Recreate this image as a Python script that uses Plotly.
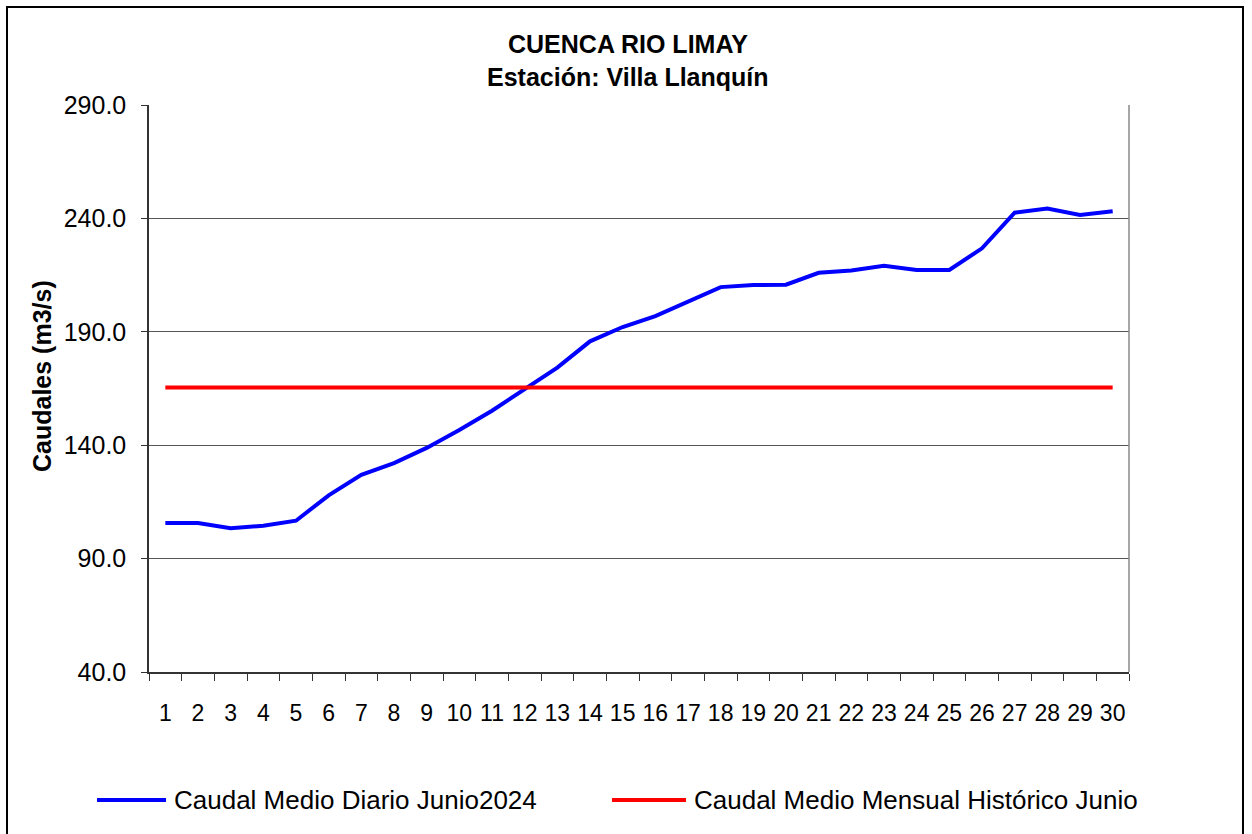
import plotly.graph_objects as go

# data
days = [str(d) for d in range(1, 31)]
caudal_diario = [105.7, 105.7, 103.4, 104.5, 106.7, 117.9, 126.9, 132.1, 138.8, 146.7,
                 155.2, 164.9, 174.2, 185.8, 192.1, 196.9, 203.5, 209.7, 210.6, 210.8,
                 216.0, 217.0, 219.1, 217.3, 217.3, 226.8, 242.5, 244.4, 241.5, 243.2]
caudal_historico = [165.4] * 30
y_ticks = [40, 90, 140, 190, 240, 290]

serie_names = ["Caudal Medio Diario Junio2024", "Caudal Medio Mensual Histórico Junio"]
serie_colors = ["#0000FF", "#FF0000"]

FONT = "Liberation Sans, Arial, sans-serif"

# plot area in pixels: x 149..1129, y 105..672
def px(x):
    return (x - 149) / 980

def py(y):
    return (672 - y) / 567

fig = go.Figure()
fig.add_trace(go.Scatter(x=days, y=caudal_diario, mode="lines", name=serie_names[0],
                         line=dict(color=serie_colors[0], width=4)))
fig.add_trace(go.Scatter(x=days, y=caudal_historico, mode="lines", name=serie_names[1],
                         line=dict(color=serie_colors[1], width=4)))

fig.update_layout(
    width=1252, height=834,
    margin=dict(l=149, r=123, t=105, b=162),
    paper_bgcolor="white", plot_bgcolor="white",
    showlegend=False,
    font=dict(family=FONT, color="black", size=24),
)

fig.update_xaxes(
    type="category", range=[-0.5, 29.5], tickson="boundaries", ticks="outside", ticklen=7,
    tickcolor="#333333", showgrid=False, showline=True, linecolor="#333333",
    linewidth=1.5, tickfont=dict(size=23), tickangle=0, ticklabelstandoff=20,
)
fig.update_yaxes(
    range=[40, 290], tickvals=y_ticks, tickformat=".1f", ticks="outside", ticklen=6,
    tickcolor="#333333", showgrid=True, gridcolor="#555555", gridwidth=1,
    showline=True, linecolor="#333333", linewidth=1.5, zeroline=False,
    tickfont=dict(size=25), ticklabelstandoff=10,
)

# right edge of plot area
fig.add_shape(type="line", xref="paper", yref="paper", x0=1, x1=1, y0=0, y1=1,
              line=dict(color="#888888", width=1.5))

# outer chart border (bottom edge falls below the page)
fig.add_shape(type="rect", xref="paper", yref="paper",
              x0=px(7), x1=px(1243), y0=py(845), y1=py(7),
              line=dict(color="black", width=2))

# title
for text, y in [("<b>CUENCA RIO LIMAY</b>", 44), ("<b>Estación: Villa Llanquín</b>", 77)]:
    fig.add_annotation(text=text, xref="paper", yref="paper", x=px(628), y=py(y),
                       xanchor="center", yanchor="middle", showarrow=False,
                       font=dict(size=25, family=FONT))

# y axis title
fig.add_annotation(text="<b>Caudales (m3/s)</b>", textangle=-90,
                   xref="paper", yref="paper", x=px(42), y=py(376),
                   xanchor="center", yanchor="middle",
                   showarrow=False, font=dict(size=25, family=FONT))

# legend drawn by hand to match the long line samples
legend_pos = [(97, 166), (612, 686)]
for (x0, x1), name, color in zip(legend_pos, serie_names, serie_colors):
    fig.add_shape(type="line", xref="paper", yref="paper",
                  x0=px(x0), x1=px(x1), y0=py(800), y1=py(800),
                  line=dict(color=color, width=4))
    fig.add_annotation(text=name, xref="paper", yref="paper", x=px(x1 + 6),
                       y=py(800), xanchor="left", yanchor="middle", showarrow=False,
                       font=dict(size=26, family=FONT))

fig.write_html("out.html", config={"displayModeBar": False},
               post_script="document.body.style.margin='0';")
